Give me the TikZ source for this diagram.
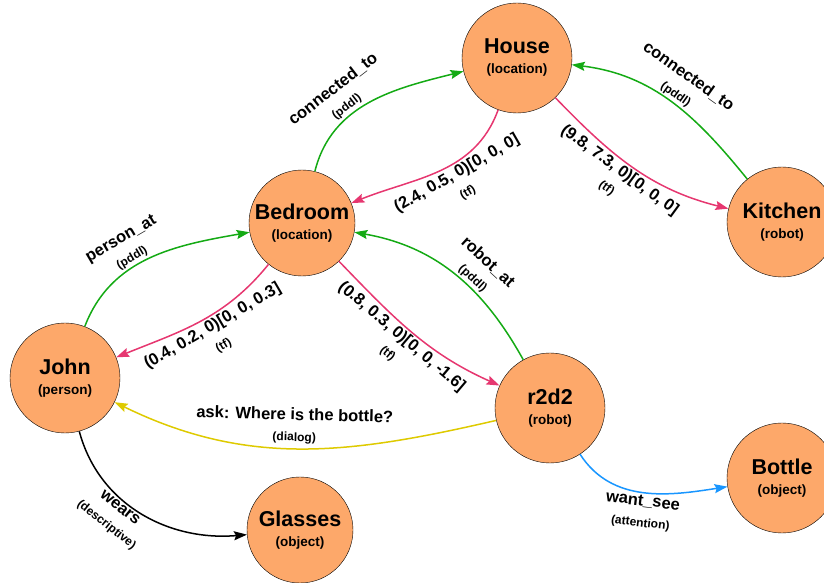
\documentclass[tikz,border=0pt]{standalone}
\usepackage{fontspec}
\setmainfont{Liberation Sans}
\usetikzlibrary{arrows.meta}

\definecolor{nodeorange}{RGB}{253,168,106}
\definecolor{pddlgreen}{RGB}{20,170,20}
\definecolor{tfpink}{RGB}{230,55,112}
\definecolor{dialogyellow}{RGB}{222,202,0}
\definecolor{attnblue}{RGB}{25,150,255}

\newcommand{\ent}[2]{{\fontsize{21.5}{24}\selectfont #1}\\[8pt]{\fontsize{13.5}{15}\selectfont (#2)}}
\newcommand{\kind}[1]{{\fontsize{12}{14}\selectfont (#1)}}

\tikzset{
    entity/.style={circle, draw=black, thin, fill=nodeorange, minimum size=110pt,
        inner sep=0pt, align=center, font=\bfseries},
    relation/.style={-{Stealth[length=13pt,width=9pt,inset=2pt]}, line width=1.5pt},
    pddl/.style={relation, draw=pddlgreen},
    tfrel/.style={relation, draw=tfpink},
    dialogrel/.style={relation, draw=dialogyellow},
    attnrel/.style={relation, draw=attnblue},
    descrel/.style={relation, draw=black},
    lbl/.style={sloped, align=center, inner sep=2pt,
        font=\bfseries\fontsize{16.5}{20}\selectfont}
}

\begin{document}
\begin{tikzpicture}[x=1pt,y=1pt]
\useasboundingbox (0,0) rectangle (824,583);

% entities
\node[entity] (house) at (517,525) {\ent{House}{location}};
\node[entity, minimum size=106pt] (bedroom) at (302,360) {\ent{Bedroom}{location}};
\node[entity] (kitchen) at (782,361) {\ent{Kitchen}{robot}};
\node[entity] (john) at (65,205) {\ent{John}{person}};
\node[entity] (r2d2) at (550,175) {\ent{r2d2}{robot}};
\node[entity, minimum size=106pt] (glasses) at (300,53) {\ent{Glasses}{object}};
\node[entity] (bottle) at (782,105) {\ent{Bottle}{object}};

% relations
\draw[pddl] (bedroom.76) to[out=76,in=194] node[lbl, above, pos=0.38] {connected\_to\\[1pt]\kind{pddl}} (house.194);
\draw[tfrel] (house.250) to[out=250,in=22] node[lbl, below, pos=0.42] {(2.4, 0.5, 0)[0, 0, 0]\\[1pt]\kind{tf}} (bedroom.22);
\draw[pddl] (kitchen.129) to[out=129,in=353] node[lbl, above, pos=0.5] {connected\_to\\[1pt]\kind{pddl}} (house.353);
\draw[tfrel] (house.314) to[out=314,in=166] node[lbl, below, pos=0.45] {(9.8, 7.3, 0)[0, 0, 0]\\[1pt]\kind{tf}} (kitchen.166);
\draw[pddl] (john.69) to[out=69,in=190] node[lbl, above, pos=0.42] {person\_at\\[1pt]\kind{pddl}} (bedroom.190);
\draw[tfrel] (bedroom.231) to[out=231,in=22] node[lbl, below, pos=0.45] {(0.4, 0.2, 0)[0, 0, 0.3]\\[1pt]\kind{tf}} (john.22);
\draw[tfrel] (bedroom.314) to[out=314,in=156] node[lbl, below, pos=0.47] {(0.8, 0.3, 0)[0, 0, -1.6]\\[1pt]\kind{tf}} (r2d2.156);
\draw[pddl] (r2d2.119) to[out=119,in=350] node[lbl, above, pos=0.42] {robot\_at\\[1pt]\kind{pddl}} (bedroom.350);
\draw[dialogrel] (r2d2.193) to[out=193,in=334] node[lbl, above=2pt, pos=0.52] {ask: Where is the bottle?\\[1pt]\kind{dialog}} (john.334);
\draw[attnrel] (r2d2.303) to[out=303,in=189] node[lbl, below, pos=0.5] {want\_see\\[1pt]\kind{attention}} (bottle.189);
\draw[descrel] (john.285) to[out=285,in=185] node[lbl, below, pos=0.4] {wears\\[1pt]\kind{descriptive}} (glasses.185);
\end{tikzpicture}
\end{document}
